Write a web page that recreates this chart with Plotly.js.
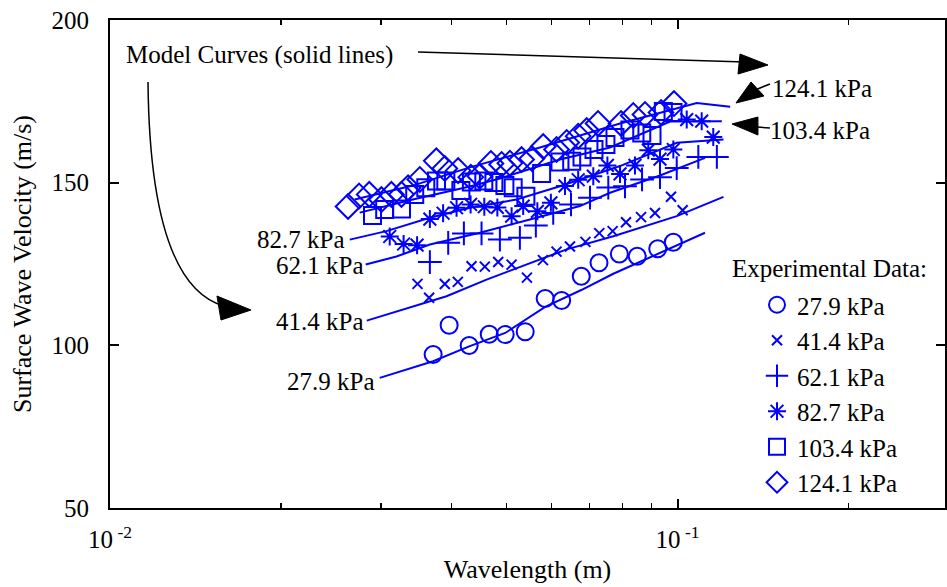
<!DOCTYPE html>
<html>
<head>
<meta charset="utf-8">
<script src="https://cdn.plot.ly/plotly-3.0.1.min.js"></script>
<style>
html,body{margin:0;padding:0;background:#fff;}
#chart{width:947px;height:587px;}
</style>
</head>
<body>
<div id="chart"></div>
<script>
// ---------- Experimental data (wavelength m, velocity m/s) ----------
const exp279_x = [0.03710,0.03959,0.04294,0.04658,0.04970,0.05390,0.05845,0.06249,0.06767,0.07272,0.07897,0.08492,0.09228,0.09831];
const exp279_y = [97.2,106.2,99.95,103.4,103.3,104.2,114.4,113.8,121.25,125.4,128.1,127.4,129.7,131.7];

const exp414_x = [0.03482,0.03650,0.03890,0.04101,0.04335,0.04576,0.04831,0.05101,0.05428,0.05792,0.06121,0.06464,0.06883,0.07280,0.07686,0.08114,0.08624,0.09127,0.09739,0.1021];
const exp414_y = [118.9,114.6,118.85,119.5,124.3,124.2,125.6,124.8,120.8,126.2,128.8,130.4,131.8,134.5,135.1,137.85,139.4,140.7,145.65,141.5];

const exp621_x = [0.03661,0.03944,0.04203,0.04515,0.04864,0.05275,0.05628,0.06039,0.06491,0.07011,0.07551,0.08080,0.08659,0.09313,0.09968,0.1088,0.1173];
const exp621_y = [125.6,131.5,134.4,134.4,132.5,133.05,136.8,140.7,143.3,145.4,148.5,148.9,151.0,151.7,154.5,157.9,157.9];

const exp827_x = [0.03111,0.03291,0.03476,0.03661,0.03863,0.04080,0.04319,0.04566,0.04814,0.05101,0.05346,0.05663,0.05982,0.06334,0.06683,0.07105,0.07524,0.07919,0.08414,0.08882,0.09313,0.09831,0.1038,0.1103,0.1156];
const exp827_y = [133.45,131.15,130.8,138.8,140.6,142.3,143.3,142.6,142.4,139.7,142.8,141.2,143.8,149.0,150.9,152.0,155.3,152.7,155.3,160.0,157.25,160.2,169.4,168.9,164.0];

const exp1034_x = [0.02901,0.03048,0.03263,0.03443,0.03601,0.03761,0.03906,0.04152,0.04333,0.04557,0.04747,0.04964,0.05134,0.05405,0.05761,0.06206,0.06509,0.06787,0.07125,0.07479,0.07759,0.08245,0.08649,0.09016,0.09441,0.09820];
const exp1034_y = [139.9,141.75,141.9,146.4,148.4,150.5,150.5,147.6,150.2,150.5,150.05,149.1,148.4,145.8,152.8,156.35,156.6,157.9,160.2,161.7,163.9,166.2,165.3,164.5,171.9,171.6];

const exp1241_x = [0.02627,0.02747,0.02863,0.03008,0.03132,0.03263,0.03351,0.03515,0.03758,0.03890,0.04106,0.04323,0.04484,0.04690,0.04898,0.05066,0.05311,0.05539,0.05799,0.06121,0.06378,0.06683,0.06918,0.07243,0.07952,0.08356,0.08764,0.09353,0.09858];
const exp1241_y = [142.7,145.9,146.4,144.8,146.4,146.4,148.4,151.0,156.7,154.35,153.7,151.7,152.0,155.9,155.6,156.0,157.1,157.4,161.1,160.2,162.35,164.3,166.0,168.2,168.2,170.65,170.95,171.6,174.3];

// ---------- Model curves ----------
const mod279_x = [0.02987,0.03710,0.04294,0.04970,0.05845,0.06767,0.07706,0.09065,0.1118];
const mod279_y = [90.0,95.1,99.7,103.8,111.8,117.0,122.0,127.6,134.6];

const mod414_x = [0.02834,0.02987,0.03515,0.03917,0.04608,0.05420,0.06378,0.07706,0.09968,0.1205];
const mod414_y = [107.6,108.8,112.55,115.1,120.2,124.8,129.5,133.55,139.7,145.65];

const mod621_x = [0.02822,0.03197,0.03661,0.04484,0.05495,0.06730,0.07603,0.09313,0.1118];
const mod621_y = [124.85,127.3,131.0,134.6,138.7,142.8,146.9,152.2,157.6];

const mod827_x = [0.02645,0.03069,0.03661,0.04305,0.05205,0.06206,0.07919,0.09968,0.1205];
const mod827_y = [132.5,135.1,139.2,142.3,144.8,148.9,155.1,162.25,163.3];

const mod1034_x = [0.02754,0.03416,0.04305,0.04864,0.06206,0.07603,0.09701,0.1197];
const mod1034_y = [140.8,144.8,148.8,151.3,157.1,160.8,168.8,168.9];

const mod1241_x = [0.02699,0.03416,0.04305,0.05722,0.07919,0.1081,0.1238];
const mod1241_y = [144.8,149.1,154.7,160.8,168.2,174.5,173.3];

const seriesNames = ['27.9 kPa','41.4 kPa','62.1 kPa','82.7 kPa','103.4 kPa','124.1 kPa'];
const xTickVals = [0.01, 0.1];
const xTickText = ['10<sup> -2</sup>', '10<sup> -1</sup>'];
const xMinorVals = [0.02,0.03,0.04,0.05,0.06,0.07,0.08,0.09,0.2];
const yTickVals = [50,100,150,200];

// ---------- Styling ----------
const BLUE = '#0000ff';
const FONT = 'Liberation Serif, Times New Roman, serif';

const expSets = [
  [exp279_x, exp279_y, 'circle-open', 17],
  [exp414_x, exp414_y, 'x-thin-open', 10],
  [exp621_x, exp621_y, 'cross-thin-open', 17],
  [exp827_x, exp827_y, 'asterisk-open', 15],
  [exp1034_x, exp1034_y, 'square-open', 17],
  [exp1241_x, exp1241_y, 'diamond-open', 19]
];
const modSets = [
  [mod279_x, mod279_y],[mod414_x, mod414_y],[mod621_x, mod621_y],
  [mod827_x, mod827_y],[mod1034_x, mod1034_y],[mod1241_x, mod1241_y]
];

const traces = [];
modSets.forEach(function(m){
  traces.push({x:m[0], y:m[1], mode:'lines', type:'scatter', showlegend:false,
    line:{color:BLUE, width:2}, hoverinfo:'skip'});
});
expSets.forEach(function(s, i){
  traces.push({x:s[0], y:s[1], mode:'markers', type:'scatter', name:seriesNames[i],
    marker:{symbol:s[2], size:s[3], color:BLUE, line:{color:BLUE, width:2}}});
});

// px -> paper helpers for decorations (plot area 110..945 x 20..508)
function px(x){return (x-110)/835;}
function py(y){return (508-y)/488;}
function P(x,y){return px(x).toFixed(4)+','+py(y).toFixed(4);}

const shapes = [
  // curved arrow from "Model Curves" to 41.4 kPa
  {type:'path', xref:'paper', yref:'paper', path:'M '+P(148,82)+' Q '+P(150,285)+' '+P(224,306),
   line:{color:'black', width:1.5}},
  {type:'path', xref:'paper', yref:'paper', path:'M '+P(217,296)+' L '+P(251,310)+' L '+P(221,320)+' Z',
   fillcolor:'black', line:{color:'black', width:1}},
  // top arrow
  {type:'path', xref:'paper', yref:'paper', path:'M '+P(418,52)+' L '+P(745,62),
   line:{color:'black', width:1.5}},
  {type:'path', xref:'paper', yref:'paper', path:'M '+P(740,54)+' L '+P(768,65)+' L '+P(738,74)+' Z',
   fillcolor:'black', line:{color:'black', width:1}},
  // 124.1 arrow
  {type:'path', xref:'paper', yref:'paper', path:'M '+P(770,84)+' L '+P(755,90),
   line:{color:'black', width:1.5}},
  {type:'path', xref:'paper', yref:'paper', path:'M '+P(751,82)+' L '+P(736,103)+' L '+P(764,96)+' Z',
   fillcolor:'black', line:{color:'black', width:1}},
  // 103.4 arrow
  {type:'path', xref:'paper', yref:'paper', path:'M '+P(757,127)+' L '+P(770,128),
   line:{color:'black', width:1.5}},
  {type:'path', xref:'paper', yref:'paper', path:'M '+P(758,117)+' L '+P(732,124)+' L '+P(758,135)+' Z',
   fillcolor:'black', line:{color:'black', width:1}}
];

const annFont = {family:FONT, size:25, color:'black'};
function ann(text, x, y, xa){
  return {text:text, xref:'paper', yref:'paper', x:px(x), y:py(y), xanchor:xa, yanchor:'middle',
    showarrow:false, font:annFont};
}
const annotations = [
  ann('Model Curves (solid lines)', 124, 55, 'left'),
  ann('124.1 kPa', 770, 88, 'left'),
  ann('103.4 kPa', 768, 130, 'left'),
  ann('82.7 kPa', 347, 240, 'right'),
  ann('62.1 kPa', 366, 265, 'right'),
  ann('41.4 kPa', 366, 321, 'right'),
  ann('27.9 kPa', 377, 381, 'right'),
  ann('Experimental Data:', 730, 268, 'left')
];

const layout = {
  width:947, height:587,
  margin:{l:110, r:2, t:20, b:79, pad:0},
  paper_bgcolor:'white', plot_bgcolor:'white',
  font:{family:FONT, size:25, color:'black'},
  showlegend:true,
  legend:{x:px(757), y:py(282), xanchor:'left', yanchor:'top', bgcolor:'rgba(0,0,0,0)',
    borderwidth:0, font:{family:FONT, size:25, color:'black'}, itemsizing:'trace', tracegroupgap:0},
  xaxis:{type:'log', range:[-2, Math.log10(0.296)], tickmode:'array', tickvals:xTickVals, ticktext:xTickText,
    ticks:'inside', ticklen:9, tickwidth:2, tickcolor:'black', showline:true, linewidth:2, linecolor:'black',
    mirror:'allticks', showgrid:false, zeroline:false, ticklabelstandoff:8,
    minor:{tickmode:'array', tickvals:xMinorVals, ticks:'inside', ticklen:5, tickwidth:1.5, tickcolor:'black', showgrid:false},
    tickfont:{family:FONT, size:25, color:'black'},
    title:{text:'Wavelength (m)', font:{family:FONT, size:26, color:'black'}, standoff:8}},
  yaxis:{range:[50,200], tickmode:'array', tickvals:yTickVals,
    ticks:'inside', ticklen:9, tickwidth:2, tickcolor:'black', showline:true, linewidth:2, linecolor:'black',
    mirror:'allticks', showgrid:false, zeroline:false, ticklabelstandoff:14,
    tickfont:{family:FONT, size:25, color:'black'},
    title:{text:'Surface Wave Velocity (m/s)', font:{family:FONT, size:26, color:'black'}, standoff:12}},
  shapes:shapes,
  annotations:annotations
};

Plotly.newPlot('chart', traces, layout, {displayModeBar:false, staticPlot:true});
</script>
</body>
</html>
